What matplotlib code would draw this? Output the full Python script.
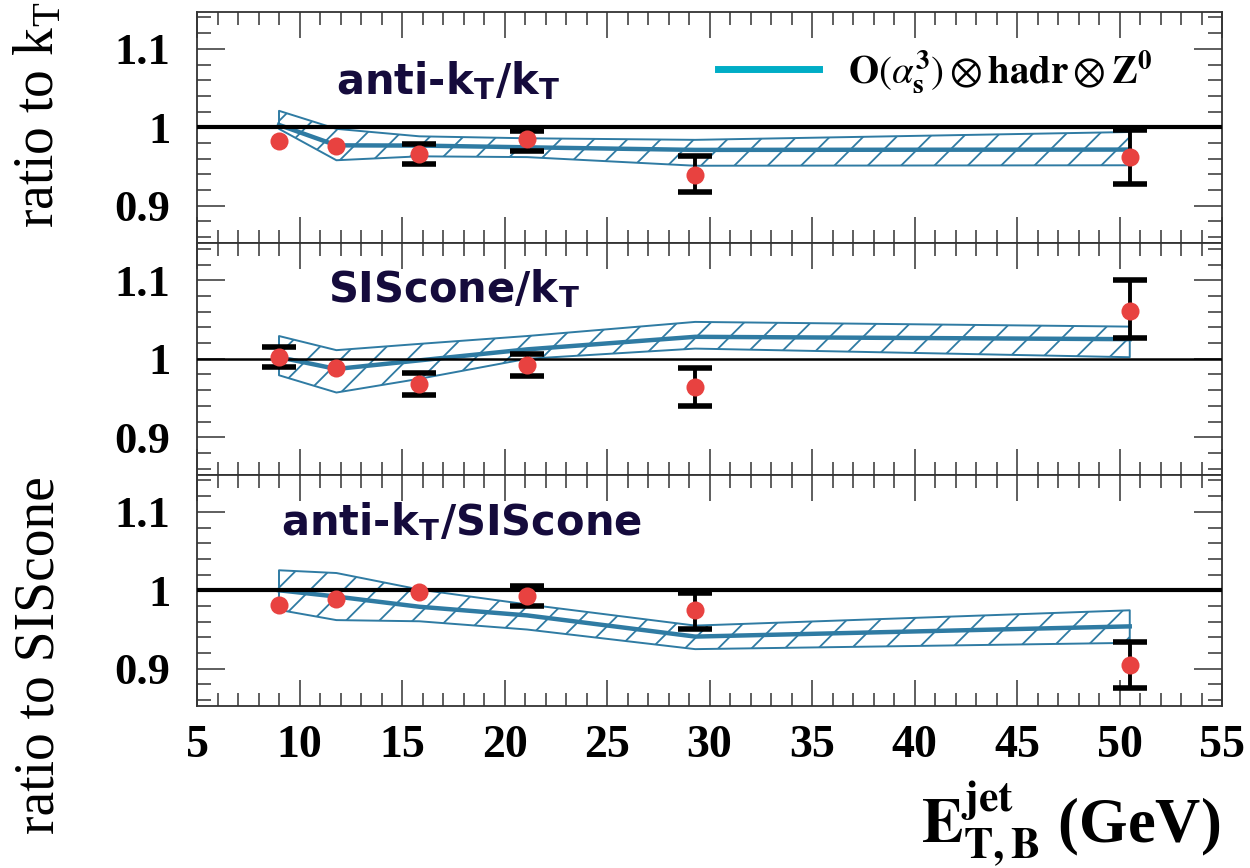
import matplotlib

matplotlib.use("Agg")
import matplotlib.pyplot as plt
from matplotlib.lines import Line2D
from matplotlib.ticker import FixedLocator, MultipleLocator, FuncFormatter

plt.rcParams["mathtext.fontset"] = "stix"
plt.rcParams["hatch.linewidth"] = 1.3

_BAND = "#2f7ba3"
_LEG = "#00adc6"
_RED = "#e84240"
_NAVY = "#150b3c"
_AX = "#333333"

# jet transverse energy bins (GeV)
e_jet = [9.0, 11.8, 15.85, 21.1, 29.3, 50.5]

# anti-kT / kT  (0 = error smaller than the marker, no bar drawn)
r1 = [0.982, 0.976, 0.966, 0.985, 0.939, 0.962]
r1_lo = [0.0, 0.0, 0.013, 0.015, 0.021, 0.034]
r1_hi = [0.0, 0.0, 0.013, 0.010, 0.025, 0.034]
b1_up = [1.021, 0.998, 0.9885, 0.986, 0.984, 0.994]
b1_mid = [1.003, 0.977, 0.9767, 0.9745, 0.9712, 0.9716]
b1_dn = [0.998, 0.958, 0.963, 0.962, 0.951, 0.9516]

# SIScone / kT
r2 = [1.002, 0.988, 0.968, 0.992, 0.964, 1.0615]
r2_lo = [0.013, 0.0, 0.014, 0.014, 0.024, 0.035]
r2_hi = [0.013, 0.0, 0.014, 0.014, 0.024, 0.039]
b2_up = [1.029, 1.011, 1.019, 1.029, 1.047, 1.041]
b2_mid = [1.002, 0.987, 0.998, 1.012, 1.028, 1.025]
b2_dn = [0.979, 0.957, 0.9745, 1.000, 1.013, 1.002]

# anti-kT / SIScone
r3 = [0.981, 0.989, 0.998, 0.9924, 0.975, 0.9053]
r3_lo = [0.0, 0.0, 0.0, 0.013, 0.024, 0.030]
r3_hi = [0.0, 0.0, 0.0, 0.013, 0.022, 0.029]
b3_up = [1.0255, 1.022, 1.001, 0.982, 0.955, 0.9745]
b3_mid = [1.000, 0.992, 0.979, 0.968, 0.941, 0.954]
b3_dn = [0.975, 0.962, 0.9605, 0.950, 0.925, 0.933]

panels = [
    ("anti-k$_\\mathregular{T}$/k$_\\mathregular{T}$", (0.136, 0.644),
     r1, r1_lo, r1_hi, b1_up, b1_mid, b1_dn, 3.0),
    ("SIScone/k$_\\mathregular{T}$", (0.128, 0.743),
     r2, r2_lo, r2_hi, b2_up, b2_mid, b2_dn, 1.8),
    ("anti-k$_\\mathregular{T}$/SIScone", (0.082, 0.737),
     r3, r3_lo, r3_hi, b3_up, b3_mid, b3_dn, 3.0),
]

fig = plt.figure(figsize=(12.5, 8.68), dpi=100)
gs = fig.add_gridspec(3, 1, left=0.1576, right=0.9776, top=0.9867, bottom=0.1866, hspace=0)
axes = [fig.add_subplot(gs[i]) for i in range(3)]

serif = ["Liberation Serif", "DejaVu Serif"]
narrow = ["Liberation Sans Narrow", "DejaVu Sans"]

for ax, (label, lpos, r, lo, hi, up, mid, dn, hlw) in zip(axes, panels):
    ax.fill_between(e_jet, dn, up, facecolor="none", edgecolor=_BAND, hatch="/",
                    linewidth=1.4, zorder=2)
    ax.plot(e_jet, mid, color=_BAND, lw=3.2, zorder=3)
    ax.axhline(1.0, color="black", lw=hlw, zorder=4)
    keep = [i for i in range(len(e_jet)) if lo[i] > 0 or hi[i] > 0]
    ax.errorbar([e_jet[i] for i in keep], [r[i] for i in keep],
                yerr=[[lo[i] for i in keep], [hi[i] for i in keep]],
                fmt="none", ecolor="black", elinewidth=2.8, capsize=12, capthick=4, zorder=5)
    ax.plot(e_jet, r, "o", color=_RED, ms=13, mec="none", zorder=6)

    ax.set_xlim(5, 55)
    ax.set_ylim(0.8525, 1.1475)
    ax.xaxis.set_major_locator(MultipleLocator(5))
    ax.xaxis.set_minor_locator(MultipleLocator(1))
    ax.yaxis.set_major_locator(FixedLocator([0.9, 1.0, 1.1]))
    ax.yaxis.set_minor_locator(MultipleLocator(0.02))
    ax.yaxis.set_major_formatter(FuncFormatter(lambda v, p: f"{v:g}"))
    ax.tick_params(which="both", direction="in", top=True, right=True, colors=_AX, width=1.1)
    ax.tick_params(axis="x", which="major", length=19)
    ax.tick_params(axis="x", which="minor", length=9.5)
    ax.tick_params(axis="y", which="major", length=20, pad=19)
    ax.tick_params(axis="y", which="minor", length=10)
    for s in ax.spines.values():
        s.set_linewidth(1.3)
        s.set_color(_AX)
    for t in ax.get_yticklabels():
        t.set_fontfamily(serif)
        t.set_fontweight("bold")
        t.set_fontsize(32)
        t.set_color("black")
    ax.text(lpos[0], lpos[1], label, transform=ax.transAxes, ha="left", va="baseline",
            fontsize=30, fontweight="bold", family=narrow, color=_NAVY)

for ax in axes[:2]:
    ax.tick_params(axis="x", labelbottom=False)

axes[2].tick_params(axis="x", pad=14)
for t in axes[2].get_xticklabels():
    t.set_fontfamily(serif)
    t.set_fontweight("bold")
    t.set_fontsize(33)
    t.set_color("black")

leg_handle = Line2D([], [], color=_LEG, lw=5)
leg = axes[0].legend(
    [leg_handle],
    [r"$\mathbf{O}(\alpha_{\mathbf{s}}^{\mathbf{3}})\otimes\mathbf{hadr}\otimes\mathbf{Z}^{\mathbf{0}}$"],
    loc="center left", bbox_to_anchor=(0.508, 0.74), frameon=False,
    borderpad=0, borderaxespad=0, handlelength=2.6, handletextpad=0.75,
    prop={"family": serif, "weight": "bold", "size": 28},
)

fig.text(0.032, 0.8675, "ratio to k$_\\mathregular{T}$", rotation=90, ha="center", va="center",
         fontsize=40, family=serif)
fig.text(0.032, 0.2454, "ratio to SIScone", rotation=90, ha="center", va="center",
         fontsize=40, family=serif)
fig.text(0.976, 0.03, r"$\mathbf{E}_{\mathbf{T,B}}^{\mathbf{jet}}$ (GeV)", ha="right",
         va="baseline", fontsize=45, family=serif, fontweight="bold")

fig.savefig("out.png", dpi=100, facecolor="white")
